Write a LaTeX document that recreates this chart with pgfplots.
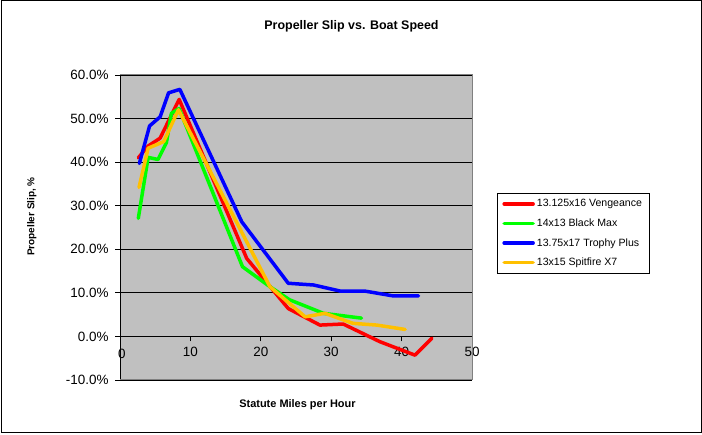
\documentclass[border=0pt]{standalone}
\usepackage{fontspec}
\setmainfont{Liberation Sans}
\usepackage{pgfplots}
\pgfplotsset{compat=1.18}
\definecolor{plotbg}{RGB}{192,192,192}
\definecolor{borderg}{RGB}{128,128,128}
\definecolor{cred}{RGB}{255,0,0}
\definecolor{cgreen}{RGB}{0,255,0}
\definecolor{cblue}{RGB}{0,0,255}
\definecolor{corange}{RGB}{255,192,0}
\begin{document}
\begin{tikzpicture}[x=1bp,y=1bp]
\path[use as bounding box] (0,0) rectangle (702,435);
\draw[black,line width=1bp] (1,2) rectangle (701,434);
\node[font=\bfseries\fontsize{12.5}{15}\selectfont] at (351.5,409) {Propeller Slip vs. Boat Speed};
\node[font=\bfseries\fontsize{11}{13}\selectfont] at (297.5,30) {Statute Miles per Hour};
\node[rotate=90,font=\bfseries\fontsize{10}{12}\selectfont] at (31.7,218.5) {Propeller Slip, \%};
\begin{axis}[
  at={(120bp,55bp)}, anchor=south west,
  scale only axis, width=352bp, height=305bp,
  xmin=0, xmax=50, ymin=-10, ymax=60,
  axis x line=middle, axis y line=left,
  axis line style={-, black, line width=0.8bp},
  axis background/.style={fill=plotbg},
  xtick={0,10,...,50}, xticklabels={0,10,20,30,40,50},
  ytick={-10,0,...,60},
  yticklabels={-10.0\%,0.0\%,10.0\%,20.0\%,30.0\%,40.0\%,50.0\%,60.0\%},
  tick align=outside, major tick length=5bp,
  tick style={black, line width=0.8bp},
  ymajorgrids, grid style={black, line width=0.8bp},
  ticklabel style={font=\fontsize{13.5}{16}\selectfont},
  xticklabel style={yshift=-2bp},
  yticklabel style={xshift=-3bp},
  legend cell align=left,
  legend style={at={(1.071,0.613)}, anchor=north west, draw=black, line width=0.8bp,
    fill=white, font=\fontsize{10.6}{12.5}\selectfont, row sep=6.5bp,
    inner xsep=5bp, inner ysep=4bp},
  legend image code/.code={\draw[#1, line width=3.5bp] (0bp,0bp) -- (29bp,0bp);},
  every axis plot/.append style={line width=3.5bp, line join=round, line cap=round},
  after end axis/.code={
    \draw[borderg, line width=1bp] (rel axis cs:0,0) -- (rel axis cs:1,0) -- (rel axis cs:1,1) -- (rel axis cs:0,1);
    \node[font=\fontsize{13.5}{16}\selectfont, anchor=north, inner sep=0pt] at ([yshift=-12bp]axis cs:0.25,0) {0};
  },
]
\addplot[cred] coordinates {(2.6,41.0) (4.0,43.7) (5.7,45.5) (8.4,54.4) (18.0,17.9) (23.9,6.4) (28.4,2.6) (31.7,2.85) (36.9,-1.2) (41.9,-4.3) (44.3,-0.4)};
\addlegendentry{13.125x16 Vengeance}
\addplot[cgreen] coordinates {(2.6,27.1) (4.0,41.1) (5.4,40.6) (6.6,44.5) (7.3,51.2) (8.4,52.3) (17.4,16.0) (21.3,11.4) (24.1,8.4) (28.9,5.3) (34.3,4.2)};
\addlegendentry{14x13 Black Max}
\addplot[cblue] coordinates {(2.75,39.7) (4.2,48.3) (5.7,50.4) (6.9,55.9) (8.5,56.7) (17.3,26.3) (23.9,12.2) (27.5,11.8) (31.3,10.4) (34.8,10.4) (38.8,9.3) (42.4,9.3)};
\addlegendentry{13.75x17 Trophy Plus}
\addplot[corange] coordinates {(2.7,34.2) (4.0,43.2) (6.2,44.7) (8.3,52.0) (21.3,11.4) (26.3,4.5) (29.1,5.3) (33.1,3.0) (36.5,2.6) (40.5,1.6)};
\addlegendentry{13x15 Spitfire X7}
\end{axis}
\end{tikzpicture}
\end{document}
